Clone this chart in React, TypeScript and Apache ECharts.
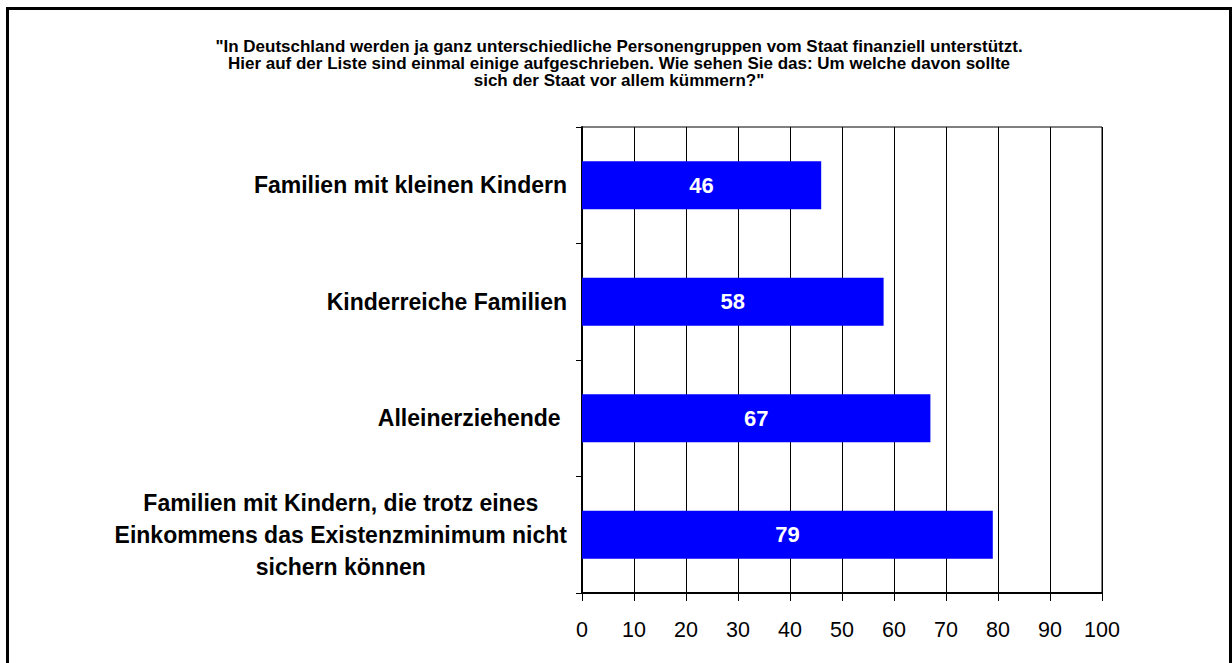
import React, { useEffect, useRef } from 'react';
import * as echarts from 'echarts';

const titleLines = [
  '"In Deutschland werden ja ganz unterschiedliche Personengruppen vom Staat finanziell unterstützt.',
  'Hier auf der Liste sind einmal einige aufgeschrieben. Wie sehen Sie das: Um welche davon sollte',
  'sich der Staat vor allem kümmern?"',
];

const categories = [
  'Familien mit kleinen Kindern',
  'Kinderreiche Familien',
  'Alleinerziehende ',
  'Familien mit Kindern, die trotz eines\nEinkommens das Existenzminimum nicht\nsichern können',
];

const values = [46, 58, 67, 79];

const xMin = 0;
const xMax = 100;
const xInterval = 10;

const FONT = '"Liberation Sans", Arial, Helvetica, sans-serif';

export default function App() {
  const ref = useRef<HTMLDivElement>(null);

  useEffect(() => {
    if (!ref.current) return;
    const chart = echarts.init(ref.current, undefined, { renderer: 'svg' });
    chart.setOption({
      animation: false,
      backgroundColor: '#fff',
      textStyle: { fontFamily: FONT },
      grid: {
        left: 582,
        right: 130,
        top: 127,
        bottom: 70,
        show: true,
        borderColor: '#000',
        borderWidth: 1,
        backgroundColor: 'transparent',
      },
      xAxis: {
        type: 'value',
        min: xMin,
        max: xMax,
        interval: xInterval,
        axisLine: { show: true, lineStyle: { color: '#000', width: 2 } },
        axisTick: { show: true, length: 8, lineStyle: { color: '#000', width: 1 } },
        splitLine: { show: true, lineStyle: { color: '#000', width: 1 } },
        axisLabel: {
          color: '#000',
          fontSize: 21.5,
          fontFamily: FONT,
          margin: 26,
        },
      },
      yAxis: {
        type: 'category',
        inverse: true,
        data: categories,
        axisLine: { show: true, lineStyle: { color: '#000', width: 2 } },
        axisTick: { show: true, length: 6, alignWithLabel: false, lineStyle: { color: '#000', width: 1 } },
        splitLine: { show: false },
        axisLabel: {
          margin: 15,
          color: '#000',
          formatter: (v: string) => `{c|${v}}`,
          rich: {
            c: {
              fontSize: 23,
              fontWeight: 'bold',
              fontFamily: FONT,
              color: '#000',
              lineHeight: 32,
              align: 'center',
            },
          },
        },
      },
      series: [
        {
          type: 'bar',
          data: values,
          barWidth: '41%',
          itemStyle: { color: '#0000FF' },
          label: {
            show: true,
            position: 'inside',
            color: '#fff',
            fontSize: 22,
            fontWeight: 'bold',
            fontFamily: FONT,
          },
        },
      ],
      graphic: [
        {
          type: 'text',
          x: 619,
          y: 38,
          silent: true,
          style: {
            text: titleLines.join('\n'),
            fill: '#000',
            font: `bold 17px ${FONT}`,
            lineHeight: 17,
            align: 'center',
            verticalAlign: 'top',
          },
        },
        {
          type: 'rect',
          shape: { x: 7.5, y: 8.5, width: 1223, height: 700 },
          style: { fill: 'none', stroke: '#000', lineWidth: 3 },
          silent: true,
        },
      ],
    });
    return () => chart.dispose();
  }, []);

  return (
    <div
      ref={ref}
      style={{ position: 'absolute', left: 0, top: 0, width: 1232, height: 663, background: '#fff' }}
    />
  );
}
